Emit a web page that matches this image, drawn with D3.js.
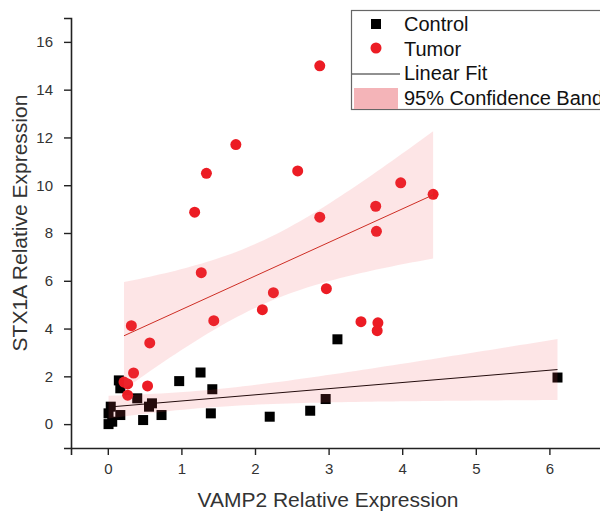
<!DOCTYPE html>
<html>
<head>
<meta charset="utf-8">
<script src="https://cdn.jsdelivr.net/npm/d3@7"></script>
<style>
  html, body { margin: 0; padding: 0; background: #fff; }
  svg { display: block; font-family: "Liberation Sans", Arial, sans-serif; }
</style>
</head>
<body>
<svg id="grafico" width="600" height="511"></svg>
<script>
// VAMP2 (x) vs STX1A (y)
const controlX = [3.12, 0.15, 0.17, 0.97, 1.26, 1.42, 0.40, 0.60, 0.56, 0.04, 0.01,
                  0.17, 0.06, 0.01, 0.48, 0.73, 1.40, 2.20, 2.75, 2.96, 6.11];
const controlY = [3.55, 1.83, 1.50, 1.80, 2.16, 1.46, 1.08, 0.87, 0.73, 0.73, 0.45,
                  0.38, 0.10, 0.00, 0.17, 0.38, 0.45, 0.31, 0.56, 1.05, 1.95];

const tumorX = [2.88, 1.74, 1.34, 2.58, 1.18, 2.88, 3.98, 3.64, 3.65, 4.42, 1.27, 2.25, 2.97,
                2.10, 1.44, 0.32, 0.57, 3.44, 3.67, 3.66, 0.35, 0.22, 0.27, 0.54, 0.27];
const tumorY = [15.0, 11.7, 10.5, 10.6, 8.87, 8.66, 10.1, 9.12, 8.07, 9.62, 6.34, 5.50, 5.67,
                4.79, 4.33, 4.12, 3.40, 4.29, 4.24, 3.91, 2.14, 1.76, 1.68, 1.60, 1.21];

const xTicks = [0, 1, 2, 3, 4, 5, 6];
const yTicks = [0, 2, 4, 6, 8, 10, 12, 14, 16];
const legendLabels = ["Control", "Tumor", "Linear Fit", "95% Confidence Band"];

const svg = d3.select("#grafico");
const x = d3.scaleLinear().domain([-0.5, 7]).range([71, 623]);
const y = d3.scaleLinear().domain([-1, 17]).range([448, 18]);

// least squares fit + 95% confidence band of the mean
function tCrit(df) {
    const z = 1.959964;
    return z + (z ** 3 + z) / (4 * df) + (5 * z ** 5 + 16 * z ** 3 + 3 * z) / (96 * df * df);
}
function fit(xs, ys) {
    const n = xs.length, mx = d3.mean(xs), my = d3.mean(ys);
    const sxx = d3.sum(xs, v => (v - mx) ** 2);
    const sxy = d3.sum(xs, (v, i) => (v - mx) * (ys[i] - my));
    const b = sxy / sxx, a = my - b * mx;
    const s = Math.sqrt(d3.sum(xs, (v, i) => (ys[i] - a - b * v) ** 2) / (n - 2));
    const t = tCrit(n - 2);
    const [x0, x1] = d3.extent(xs);
    const band = d3.range(0, 61).map(k => {
        const xv = x0 + (x1 - x0) * k / 60;
        const h = t * s * Math.sqrt(1 / n + (xv - mx) ** 2 / sxx);
        return { x: xv, lo: a + b * xv - h, hi: a + b * xv + h };
    });
    return { a, b, x0, x1, band };
}

const fitC = fit(controlX, controlY);
const fitT = fit(tumorX, tumorY);

// points
svg.append("g").selectAll("rect")
    .data(controlX.map((v, i) => [v, controlY[i]]))
    .join("rect")
    .attr("x", d => x(d[0]) - 5).attr("y", d => y(d[1]) - 5)
    .attr("width", 10).attr("height", 10)
    .attr("fill", "#000");

svg.append("g").selectAll("circle")
    .data(tumorX.map((v, i) => [v, tumorY[i]]))
    .join("circle")
    .attr("cx", d => x(d[0])).attr("cy", d => y(d[1]))
    .attr("r", 5.5)
    .attr("fill", "#ec1c24");

// fit lines
[[fitC, "#000"], [fitT, "#c8281c"]].forEach(([f, cor]) => {
    svg.append("line")
        .attr("x1", x(f.x0)).attr("y1", y(f.a + f.b * f.x0))
        .attr("x2", x(f.x1)).attr("y2", y(f.a + f.b * f.x1))
        .attr("stroke", cor).attr("stroke-width", 1);
});

// bands, translucent on top
const area = d3.area().x(d => x(d.x)).y0(d => y(d.lo)).y1(d => y(d.hi));
[fitC, fitT].forEach(f => {
    svg.append("path")
        .attr("d", area(f.band))
        .attr("fill", "rgb(240,80,90)")
        .attr("fill-opacity", 0.15);
});

// axes
const xAxis = svg.append("g").attr("transform", "translate(0,448)");
xAxis.call(d3.axisBottom(x).tickValues(d3.range(-0.5, 7.01, 0.5)).tickSize(4).tickFormat(""));
xAxis.call(d3.axisBottom(x).tickValues(xTicks).tickSize(7).tickPadding(8).tickFormat(d3.format("d")));

const yAxis = svg.append("g").attr("transform", "translate(71,0)");
yAxis.call(d3.axisLeft(y).tickValues(d3.range(-1, 17.01, 1)).tickSize(4).tickFormat(""));
yAxis.call(d3.axisLeft(y).tickValues(yTicks).tickSize(7).tickPadding(11).tickFormat(d3.format("d")));

svg.selectAll(".domain").attr("stroke", "#222").attr("stroke-width", 1.6);
svg.selectAll(".tick line").attr("stroke", "#222").attr("stroke-width", 1.4);
svg.selectAll(".tick text").attr("font-size", 15).attr("fill", "#333")
    .attr("font-family", "Liberation Sans, Arial, sans-serif");

svg.append("text")
    .attr("x", 328).attr("y", 507)
    .attr("text-anchor", "middle")
    .attr("font-size", 21).attr("fill", "#333")
    .text("VAMP2 Relative Expression");

svg.append("text")
    .attr("transform", "translate(27,223) rotate(-90)")
    .attr("text-anchor", "middle")
    .attr("font-size", 21).attr("fill", "#333")
    .text("STX1A Relative Expression");

// legend
const leg = svg.append("g");
leg.append("rect")
    .attr("x", 351.5).attr("y", 10.5).attr("width", 300).attr("height", 99)
    .attr("fill", "#fff").attr("stroke", "#666").attr("stroke-width", 1.2);
leg.append("rect").attr("x", 371).attr("y", 19).attr("width", 10).attr("height", 10).attr("fill", "#000");
leg.append("circle").attr("cx", 376).attr("cy", 48).attr("r", 5.5).attr("fill", "#ec1c24");
leg.append("line").attr("x1", 352).attr("x2", 400).attr("y1", 74).attr("y2", 74)
    .attr("stroke", "#222").attr("stroke-width", 1);
leg.append("rect").attr("x", 354).attr("y", 88).attr("width", 44).attr("height", 21).attr("fill", "#f4b4b8");
leg.selectAll("text.lbl")
    .data(legendLabels)
    .join("text")
    .attr("class", "lbl")
    .attr("x", 404).attr("y", (d, i) => 31 + i * 24.7)
    .attr("font-size", 20).attr("fill", "#111")
    .text(d => d);
</script>
</body>
</html>
